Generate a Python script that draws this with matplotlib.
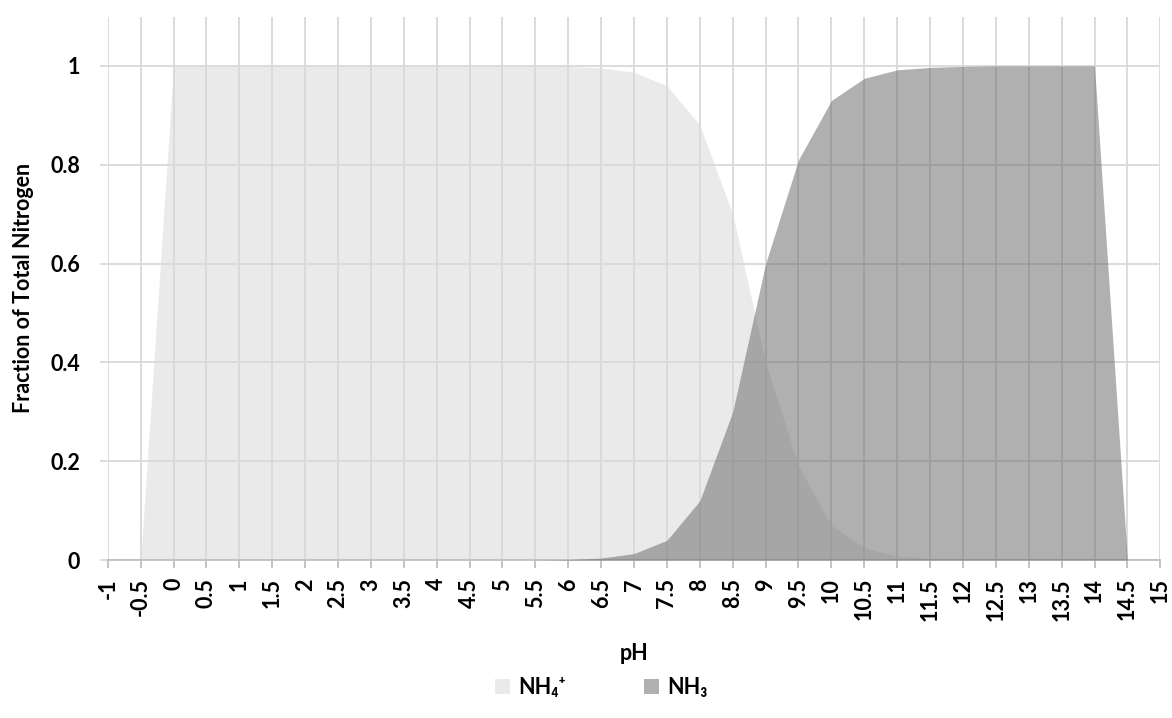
import matplotlib.pyplot as plt
import numpy as np

plt.rcParams['font.family'] = ['Lato', 'DejaVu Sans']
plt.rcParams['font.weight'] = 'bold'

# pH steps and species fractions
ph = [-1, -0.5, 0, 0.5, 1, 1.5, 2, 2.5, 3, 3.5, 4, 4.5, 5, 5.5, 6, 6.5, 7, 7.5,
      8, 8.5, 9, 9.5, 10, 10.5, 11, 11.5, 12, 12.5, 13, 13.5, 14, 14.5, 15]
nh4 = [0, 0, 1, 1, 1, 1, 1, 1, 1, 1, 1, 1, 1, 1, 0.999, 0.996, 0.987, 0.96,
       0.88, 0.70, 0.40, 0.19, 0.07, 0.025, 0.008, 0.003, 0.001, 0, 0, 0, 0, 0, 0]
nh3 = [0, 0, 0, 0, 0, 0, 0, 0, 0, 0, 0, 0, 0, 0, 0.001, 0.004, 0.013, 0.04,
       0.12, 0.30, 0.60, 0.81, 0.93, 0.975, 0.992, 0.997, 0.999, 1, 1, 1, 1, 0, 0]
tick_labels = ['-1', '-0.5', '0', '0.5', '1', '1.5', '2', '2.5', '3', '3.5', '4',
               '4.5', '5', '5.5', '6', '6.5', '7', '7.5', '8', '8.5', '9', '9.5',
               '10', '10.5', '11', '11.5', '12', '12.5', '13', '13.5', '14',
               '14.5', '15']

fs = 15.5

fig = plt.figure(figsize=(11.72, 7.18), dpi=100)
ax = fig.add_axes([0.092, 0.22, 0.898, 0.757])

ax.fill_between(ph, nh4, color='#d9d9d9', alpha=0.55, linewidth=0, zorder=2,
                label='NH\u2084\u207a')
ax.fill_between(ph, nh3, color='#636363', alpha=0.5, linewidth=0, zorder=3,
                label='NH\u2083')

ax.set_xlim(-1, 15)
ax.set_ylim(0, 1.1)
ax.set_xticks(ph)
ax.set_xticklabels(tick_labels, rotation=90, fontsize=fs, fontweight='bold')
ax.set_yticks([0, 0.2, 0.4, 0.6, 0.8, 1])
ax.set_yticklabels(['0', '0.2', '0.4', '0.6', '0.8', '1'], fontsize=fs,
                   fontweight='bold')

ax.grid(True, color='#d9d9d9', linewidth=1.3, zorder=1)
ax.set_axisbelow(True)
for side in ['top', 'right', 'left']:
    ax.spines[side].set_visible(False)
ax.spines['bottom'].set_color('#bfbfbf')
ax.spines['bottom'].set_linewidth(1.3)
ax.tick_params(axis='x', length=6, color='#bfbfbf', width=1.3, pad=7)
ax.tick_params(axis='y', length=6, color='#d9d9d9', width=1.3, pad=14)

ax.set_xlabel('pH', fontsize=fs, fontweight='bold', labelpad=16)
ax.set_ylabel('Fraction of Total Nitrogen', fontsize=fs, fontweight='bold',
              labelpad=12)

leg = fig.legend(loc='center', bbox_to_anchor=(0.513, 0.042), ncol=2,
                 frameon=False, fontsize=fs, handlelength=0.7,
                 handleheight=0.7, columnspacing=3.6, handletextpad=0.4)
for t in leg.get_texts():
    t.set_fontweight('bold')

fig.savefig('out.png', dpi=100)
